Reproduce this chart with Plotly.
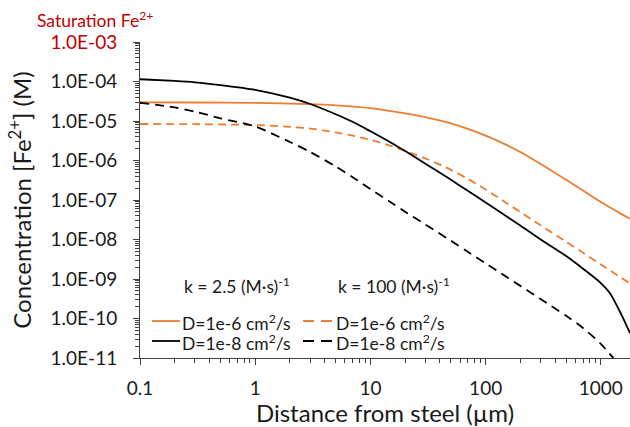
import plotly.graph_objects as go

# Distance from steel (um) and Fe2+ concentration (M)
x_k25_d6 = [0.1, 0.3, 1, 3, 5, 10, 20, 30, 50, 70, 100, 150, 200, 300, 500, 700, 1000, 1500, 1790]
y_k25_d6 = [2.97e-5, 2.94e-5, 2.89e-5, 2.68e-5, 2.5e-5, 2.13e-5, 1.56e-5, 1.25e-5, 8.7e-6, 6.3e-6,
            4.27e-6, 2.52e-6, 1.64e-6, 8.2e-7, 3.24e-7, 1.73e-7, 8.9e-8, 4.46e-8, 3.36e-8]

x_k25_d8 = [0.1, 0.2, 0.3, 0.5, 1, 2, 3, 5, 7, 10, 15, 20, 30, 50, 70, 100, 150, 200, 300, 500,
            700, 1000, 1200, 1500, 1790]
y_k25_d8 = [1.14e-4, 1.035e-4, 9.55e-5, 8.13e-5, 6.17e-5, 3.89e-5, 2.69e-5, 1.48e-5, 9.55e-6, 5.5e-6,
            2.86e-6, 1.73e-6, 8.3e-7, 3.24e-7, 1.71e-7, 8.7e-8, 3.94e-8, 2.25e-8, 1.0e-8, 3.8e-9,
            1.82e-9, 7.9e-10, 4.37e-10, 1.29e-10, 4.27e-11]

x_k100_d6 = [0.1, 0.3, 1, 2, 3, 5, 7, 10, 15, 20, 30, 50, 70, 100, 150, 200, 300, 500, 700, 1000,
             1500, 1790]
y_k100_d6 = [8.4e-6, 8.3e-6, 7.9e-6, 7.1e-6, 6.45e-6, 5.13e-6, 4.27e-6, 3.32e-6, 2.35e-6, 1.76e-6,
             1.13e-6, 5.8e-7, 3.44e-7, 1.85e-7, 8.55e-8, 4.95e-8, 2.29e-8, 8.7e-9, 4.6e-9, 2.33e-9,
             1.08e-9, 7.7e-10]

x_k100_d8 = [0.1, 0.2, 0.3, 0.5, 1, 2, 3, 5, 7, 10, 15, 20, 30, 50, 70, 100, 150, 200, 300, 500,
             700, 1000, 1200, 1300]
y_k100_d8 = [2.9e-5, 2.2e-5, 1.73e-5, 1.17e-5, 7.24e-6, 2.94e-6, 1.64e-6, 7.05e-7, 3.78e-7, 1.89e-7,
             8.75e-8, 5.06e-8, 2.39e-8, 9.3e-9, 4.9e-9, 2.49e-9, 1.15e-9, 6.7e-10, 3.1e-10, 1.17e-10,
             5.75e-11, 2.28e-11, 1.25e-11, 9.5e-12]

y_tick_vals = [1e-11, 1e-10, 1e-9, 1e-8, 1e-7, 1e-6, 1e-5, 1e-4, 1e-3]
y_tick_text = ["1.0E-11", "1.0E-10", "1.0E-09", "1.0E-08", "1.0E-07", "1.0E-06", "1.0E-05",
               "1.0E-04", "<span style='color:#C00000'>1.0E-03</span>"]
x_tick_vals = [0.1, 1, 10, 100, 1000]
x_tick_text = ["0.1", "1", "10", "100", "1000"]

ORANGE = "#ED7D31"
BLACK = "#000000"
RED = "#C00000"
TEXT = "#1a1a1a"
FONT = "Lato"

fig = go.Figure()
fig.add_trace(go.Scatter(x=x_k25_d6, y=y_k25_d6, mode="lines",
                         line=dict(color=ORANGE, width=1.8, shape="spline", smoothing=0.8)))
fig.add_trace(go.Scatter(x=x_k100_d6, y=y_k100_d6, mode="lines",
                         line=dict(color=ORANGE, width=1.8, dash="8px,5px", shape="spline", smoothing=0.8)))
fig.add_trace(go.Scatter(x=x_k25_d8, y=y_k25_d8, mode="lines",
                         line=dict(color=BLACK, width=1.8, shape="spline", smoothing=0.8)))
fig.add_trace(go.Scatter(x=x_k100_d8, y=y_k100_d8, mode="lines",
                         line=dict(color=BLACK, width=1.8, dash="9px,6px", shape="spline", smoothing=0.8)))

minor_y = [m * 10.0 ** e for e in range(-11, -3) for m in range(2, 10)]
minor_x = [m * 10.0 ** e for e in range(-1, 4) for m in range(2, 10)]

fig.update_layout(
    width=630, height=427,
    margin=dict(l=140, r=0, t=42, b=69),
    plot_bgcolor="white", paper_bgcolor="white",
    showlegend=False,
    font=dict(family=FONT, size=17, color=TEXT),
)
fig.update_xaxes(
    type="log", range=[-1, 3.253],
    tickmode="array", tickvals=x_tick_vals, ticktext=x_tick_text,
    ticks="outside", ticklen=6, tickwidth=1, tickcolor="#404040",
    showline=True, linecolor="#404040", linewidth=1,
    showgrid=False, zeroline=False,
    minor=dict(tickmode="array", tickvals=minor_x, ticks="outside", ticklen=4,
               tickcolor="#404040", showgrid=False),
    tickfont=dict(size=19),
    ticklabelstandoff=7,
    title=dict(text="Distance from steel (µm)", font=dict(size=24), standoff=4),
)
fig.update_yaxes(
    type="log", range=[-11, -3],
    tickmode="array", tickvals=y_tick_vals, ticktext=y_tick_text,
    ticks="outside", ticklen=6, tickwidth=1, tickcolor="#404040",
    showline=True, linecolor="#404040", linewidth=1,
    showgrid=False, zeroline=False,
    minor=dict(tickmode="array", tickvals=minor_y, ticks="outside", ticklen=4,
               tickcolor="#404040", showgrid=False),
    tickfont=dict(size=19),
    ticklabelstandoff=12,
    title=dict(text="Concentration [Fe<sup>2+</sup>] (M)", font=dict(size=24), standoff=12),
)


def px(xp):
    return (xp - 140) / 490.0


def py(yp):
    return (358 - yp) / 316.0


fig.add_annotation(text="Saturation Fe<sup>2+</sup>", xref="paper", yref="paper",
                   x=px(95), y=py(19), xanchor="center", yanchor="middle",
                   showarrow=False, font=dict(size=17.5, color=RED))

legend_font = dict(size=17.5, color=TEXT)
fig.add_annotation(text="k = 2.5 (M·s)<sup>-1</sup>", xref="paper", yref="paper", x=px(182), y=py(285),
                   xanchor="left", yanchor="middle", showarrow=False, font=legend_font)
fig.add_annotation(text="k = 100 (M·s)<sup>-1</sup>", xref="paper", yref="paper", x=px(336), y=py(285),
                   xanchor="left", yanchor="middle", showarrow=False, font=legend_font)
rows = [(321, "D=1e-6 cm<sup>2</sup>/s", ORANGE), (341, "D=1e-8 cm<sup>2</sup>/s", BLACK)]
for yy, txt, col in rows:
    fig.add_shape(type="line", xref="paper", yref="paper", x0=px(152), x1=px(180), y0=py(yy), y1=py(yy),
                  line=dict(color=col, width=1.8))
    fig.add_shape(type="line", xref="paper", yref="paper", x0=px(303), x1=px(334), y0=py(yy), y1=py(yy),
                  line=dict(color=col, width=1.8, dash="11px,7px"))
    fig.add_annotation(text=txt, xref="paper", yref="paper", x=px(180), y=py(yy + 1), xanchor="left",
                       yanchor="middle", showarrow=False, font=legend_font)
    fig.add_annotation(text=txt, xref="paper", yref="paper", x=px(334), y=py(yy + 1), xanchor="left",
                       yanchor="middle", showarrow=False, font=legend_font)

fig.write_html("out.html")
